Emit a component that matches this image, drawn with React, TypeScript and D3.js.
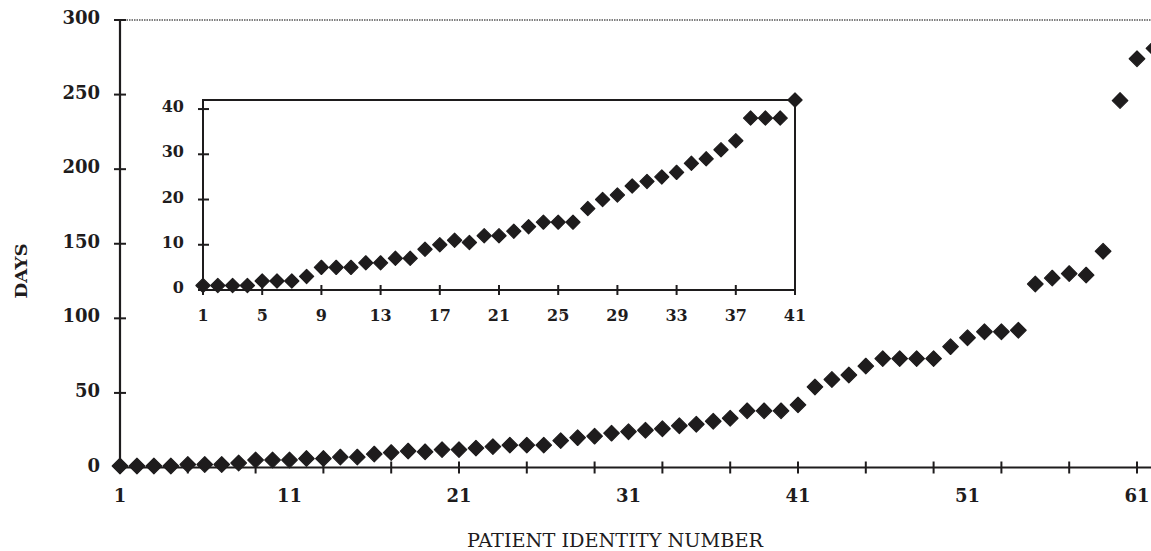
import React from 'react';
import * as d3 from 'd3';

// days per patient (patients 1..62)
const days = [
  1, 1, 1, 1, 2, 2, 2, 3, 5, 5,
  5, 6, 6, 7, 7, 9, 10, 11, 10.5, 12,
  12, 13, 14, 15, 15, 15, 18, 20, 21, 23,
  24, 25, 26, 28, 29, 31, 33, 38, 38, 38,
  42, 54, 59, 62, 68, 73, 73, 73, 73, 81,
  87, 91, 91, 92, 123, 127, 130, 129, 145, 246,
  274, 281,
];

const mainYTicks = [0, 50, 100, 150, 200, 250, 300];
const mainXTicks = [1, 5, 9, 13, 17, 21, 25, 29, 33, 37, 41, 45, 49, 53, 57, 61];
const mainXLabels = [1, 11, 21, 31, 41, 51, 61];

const insetCount = 41;
const insetYTicks = [0, 10, 20, 30, 40];
const insetXTicks = [1, 5, 9, 13, 17, 21, 25, 29, 33, 37, 41];

const ink = '#1e1c1d';
const font = '"DejaVu Serif", serif';

const diamond = (r: number) => d3.symbol().type(d3.symbolDiamond2).size(2 * r * r)();

function App() {
  const width = 1151;
  const height = 551;

  const x = d3.scaleLinear().domain([1, 61]).range([120, 1137]);
  const y = d3.scaleLinear().domain([0, 300]).range([467.5, 20]);

  const ix = d3.scaleLinear().domain([1, 41]).range([203, 795]);
  const iy = d3.scaleLinear().domain([0, 42]).range([290, 100]);

  const points = days.map((d, i) => ({ id: i + 1, d }));
  const insetPoints = points.slice(0, insetCount);

  const bigD = diamond(8.8);
  const smallD = diamond(8);

  return (
    <div>
      <style>{`body{margin:0}`}</style>
      <svg width={width} height={height} style={{ display: 'block', background: '#fff' }}>
        {/* main chart frame */}
        <line x1={114} x2={width} y1={y(300)} y2={y(300)} stroke="#555" strokeWidth={1.6} strokeDasharray="1.5,1" />
        <line x1={120} x2={120} y1={y(300)} y2={y(0)} stroke={ink} strokeWidth={2.2} />
        <line x1={120} x2={width} y1={y(0)} y2={y(0)} stroke={ink} strokeWidth={2.2} />

        {mainYTicks.map(t => (
          <g key={'my' + t}>
            <line x1={114} x2={126} y1={y(t)} y2={y(t)} stroke={ink} strokeWidth={2} />
            <text x={100} y={y(t) + 4} textAnchor="end" fontFamily={font} fontSize={18} fontWeight="bold" fill={ink}>{t}</text>
          </g>
        ))}
        {mainXTicks.map(t => (
          <line key={'mx' + t} x1={x(t)} x2={x(t)} y1={y(0) - 6} y2={y(0) + 6} stroke={ink} strokeWidth={2} />
        ))}
        {mainXLabels.map(t => (
          <text key={'ml' + t} x={x(t)} y={502} textAnchor="middle" fontFamily={font} fontSize={18} fontWeight="bold" fill={ink}>{t}</text>
        ))}

        <text x={615} y={547} textAnchor="middle" fontFamily={font} fontSize={18} fill={ink}
          textLength={296} lengthAdjust="spacingAndGlyphs">PATIENT IDENTITY NUMBER</text>
        <text transform="translate(27,271) rotate(-90)" textAnchor="middle" fontFamily={font} fontSize={17}
          fontWeight="bold" fill={ink} textLength={55} lengthAdjust="spacingAndGlyphs">DAYS</text>

        {/* inset */}
        <rect x={ix(1)} y={iy(42)} width={ix(41) - ix(1)} height={iy(0) - iy(42)} fill="#fff" stroke={ink} strokeWidth={2} />
        {insetYTicks.map(t => (
          <g key={'iy' + t}>
            <line x1={198} x2={209} y1={iy(t)} y2={iy(t)} stroke={ink} strokeWidth={2} />
            <text x={184} y={iy(t) + 3} textAnchor="end" fontFamily={font} fontSize={16} fontWeight="bold" fill={ink}>{t}</text>
          </g>
        ))}
        {insetXTicks.map(t => (
          <g key={'ix' + t}>
            <line x1={ix(t)} x2={ix(t)} y1={iy(0) - 5} y2={iy(0) + 5} stroke={ink} strokeWidth={2} />
            <text x={ix(t)} y={321} textAnchor="middle" fontFamily={font} fontSize={16} fontWeight="bold" fill={ink}>{t}</text>
          </g>
        ))}
        {insetPoints.map(p => (
          <path key={'ip' + p.id} d={smallD || ''} transform={`translate(${ix(p.id)},${iy(p.d)})`}
            fill={ink} stroke={ink} strokeWidth={1.2} strokeLinejoin="round" />
        ))}

        {/* main points */}
        {points.map(p => (
          <path key={'mp' + p.id} d={bigD || ''} transform={`translate(${x(p.id)},${y(p.d)})`}
            fill={ink} stroke={ink} strokeWidth={1.2} strokeLinejoin="round" />
        ))}
      </svg>
    </div>
  );
}

export default App;
